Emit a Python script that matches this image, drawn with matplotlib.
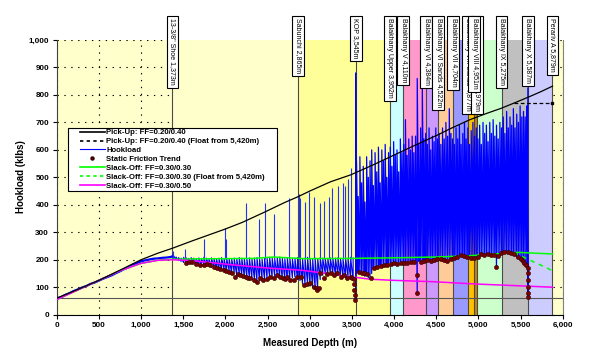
import matplotlib
matplotlib.use('Agg')
import matplotlib.pyplot as plt
import matplotlib.transforms as mtransforms
from matplotlib.lines import Line2D
from matplotlib.patches import Rectangle
from matplotlib.ticker import FuncFormatter, MultipleLocator
import numpy as np

plt.rcParams['font.family'] = ['Liberation Sans', 'DejaVu Sans']

# ---------------- data ----------------
# Pick-up (FF=0.20/0.40)
pu_depth = [0, 250, 500, 750, 1000, 1200, 1373, 1600, 1800, 2000, 2200, 2455, 2700, 2865, 3000,
            3248, 3485, 3750, 3999, 4250, 4515, 4673, 4900, 5100, 5267, 5420, 5600, 5742, 5879]
pu_load = [60, 92, 125, 162, 200, 224, 242, 268, 290, 312, 336, 372, 408, 430, 450,
           484, 509, 545, 581, 617, 654, 678, 710, 733, 751, 770, 793, 812, 832]
# Pick-up float from 5,420m
puf_depth = [5420, 5879]
puf_load = [771, 771]
# Slack-off FF=0.30/0.30
so3_depth = [0, 250, 500, 750, 1000, 1200, 1373, 1600, 2000, 2334, 2571, 2930, 3500, 4000,
             4500, 4871, 5200, 5465, 5600, 5879]
so3_load = [55, 90, 125, 160, 187, 198, 202, 203, 204, 205, 210, 204, 205, 207,
            210, 214, 221, 227, 225, 221]
# Slack-off float from 5,420m
so3f_depth = [5420, 5500, 5600, 5700, 5800, 5879]
so3f_load = [226, 215, 200, 186, 172, 160]
# Slack-off FF=0.30/0.50
so5_depth = [0, 250, 500, 750, 1000, 1200, 1373, 1600, 2100, 2535, 2900, 3128, 3486, 3722,
             4000, 4474, 4950, 5500, 5879]
so5_load = [55, 90, 125, 160, 187, 198, 200, 197, 181, 169, 162, 153, 138, 129,
            125, 120, 112, 105, 100]

# Hookload, surface to shoe
hl0_depth = [0, 25, 50, 100, 150, 200, 250, 300, 350, 400, 450, 500, 550, 600, 650, 700, 750,
             800, 850, 900, 950, 1000, 1050, 1100, 1150, 1200, 1250, 1300, 1350, 1375]
hl0_load = [55, 62, 64, 72, 78, 86, 92, 99, 104, 112, 117, 124, 131, 137, 143, 151, 158,
            166, 172, 181, 187, 194, 198, 201, 204, 205, 207, 208, 210, 213]

# Hookload, shoe to KOP (min / max per sample)
hl1_depth = [1385, 1415, 1445, 1475, 1505, 1535, 1565, 1595, 1625, 1655,
             1685, 1715, 1745, 1775, 1805, 1835, 1865, 1895, 1925, 1955,
             1985, 2015, 2045, 2075, 2105, 2135, 2165, 2195, 2225, 2255,
             2285, 2315, 2345, 2375, 2405, 2435, 2465, 2495, 2525, 2555,
             2585, 2615, 2645, 2675, 2705, 2735, 2765, 2795, 2825, 2855,
             2885, 2915, 2945, 2975, 3005, 3035, 3065, 3095, 3125, 3155,
             3185, 3215, 3245, 3275, 3305, 3335, 3365, 3395, 3425, 3455,
             3485, 3515]
hl1_low = [205, 200, 197, 194, 190, 188, 191, 185, 189, 183,
           181, 178, 183, 176, 179, 172, 170, 167, 165, 160,
           163, 156, 158, 150, 155, 140, 148, 142, 137, 136,
           134, 129, 127, 121, 124, 130, 127, 131, 137, 134,
           140, 144, 137, 131, 129, 127, 129, 134, 137, 129,
           124, 112, 108, 111, 104, 98, 94, 88, 128, 143,
           148, 146, 150, 149, 146, 143, 139, 137, 134, 134,
           131, 127]
hl1_high = [215, 210, 208, 206, 209, 207, 205, 208, 206, 204,
            207, 205, 209, 206, 204, 207, 205, 203, 206, 208,
            204, 207, 205, 203, 206, 204, 208, 206, 203, 205,
            207, 204, 206, 208, 205, 203, 207, 205, 209, 206,
            204, 208, 210, 206, 204, 207, 205, 203, 206, 208,
            205, 204, 207, 209, 205, 203, 206, 204, 208, 206,
            203, 205, 207, 204, 206, 208, 205, 203, 207, 205,
            209, 206]
# isolated overpull spikes between shoe and KOP
spk_depth = [1380, 1520, 1745, 2000, 2012, 2240, 2400, 2470, 2580, 2750, 2870, 2890, 2950,
             2990, 3050, 3120, 3170, 3230, 3270, 3330, 3390, 3420, 3450, 3485]
spk_top = [232, 238, 277, 315, 275, 405, 347, 405, 367, 425, 438, 424, 411,
           445, 430, 405, 415, 430, 460, 470, 480, 470, 495, 533]
spk_base = 203

# Hookload, KOP to TD (min / max per sample)
hl2_depth = [3545,
             3555, 3575, 3595, 3615, 3635, 3655, 3675, 3695, 3715, 3735,
             3755, 3775, 3795, 3815, 3835, 3855, 3875, 3895, 3915, 3935,
             3955, 3975, 3995, 4015, 4035, 4055, 4075, 4095, 4115, 4135,
             4155, 4175, 4195, 4215, 4235, 4255, 4275, 4295, 4315, 4335,
             4355, 4375, 4395, 4415, 4435, 4455, 4475, 4495, 4515, 4535,
             4555, 4575, 4595, 4615, 4635, 4655, 4675, 4695, 4715, 4735,
             4755, 4775, 4795, 4815, 4835, 4855, 4875, 4895, 4915, 4935,
             4955, 4975, 4995, 5015, 5035, 5055, 5075, 5095, 5115, 5135,
             5155, 5175, 5195, 5215, 5235, 5255, 5275, 5295, 5315, 5335,
             5355, 5375, 5395, 5415, 5435, 5455, 5475, 5495, 5515, 5535,
             5555, 5575,
             5587]
hl2_high = [880,
            560, 430, 575, 480, 540, 410, 575, 500, 560, 600,
            470, 590, 520, 610, 480, 600, 560, 620, 500, 590,
            610, 540, 630, 580, 600, 520, 640, 590, 620, 710,
            580, 640, 600, 650, 590, 650, 860, 620, 680, 840,
            640, 660, 620, 680, 600, 650, 630, 680, 640, 660,
            620, 680, 640, 700, 650, 750, 660, 640, 620, 680,
            640, 690, 620, 660, 700, 640, 680, 620, 670, 700,
            650, 680, 640, 690, 620, 700, 660, 690, 630, 700,
            660, 710, 650, 690, 640, 700, 680, 720, 660, 740,
            680, 720, 690, 750, 680, 730, 700, 760, 720, 740,
            720, 760,
            825]
hl2_low = [55,
           150, 155, 150, 148, 145, 140, 150, 135, 132, 150,
           165, 172, 175, 178, 180, 182, 183, 185, 186, 187,
           188, 189, 187, 190, 188, 191, 189, 192, 190, 193,
           191, 194, 192, 195, 193, 196, 80, 194, 197, 195,
           198, 196, 199, 197, 200, 198, 201, 199, 202, 200,
           201, 203, 200, 202, 204, 201, 203, 205, 206, 208,
           210, 212, 215, 211, 209, 213, 210, 207, 209, 206,
           208, 212, 218, 220, 219, 221, 218, 220, 222, 219,
           221, 218, 215, 172, 218, 223, 225, 228, 226, 229,
           227, 225, 222, 220, 215, 209, 205, 202, 198, 190,
           185, 175,
           60]

# Static friction trend
sf_depth = [1536, 1570, 1604, 1650, 1703, 1742, 1780, 1821, 1860, 1901, 1940, 1980, 2010, 2039,
            2080, 2118, 2150, 2178, 2210, 2240, 2270, 2297, 2336, 2376, 2416, 2450, 2495, 2535,
            2574, 2614, 2650, 2680, 2713, 2732, 2772, 2811, 2851, 2891, 2930, 2970, 3009, 3049,
            3069, 3089, 3110, 3128, 3168, 3208, 3247, 3287, 3327, 3366, 3406, 3445, 3485, 3505,
            3524, 3527, 3530, 3532, 3534, 3584, 3620, 3643, 3683, 3722, 3762, 3800, 3841, 3880,
            3920, 3960, 3999, 4040, 4079, 4120, 4158, 4200, 4240, 4277, 4277, 4316, 4355, 4396,
            4435, 4475, 4515, 4554, 4593, 4633, 4673, 4713, 4752, 4792, 4831, 4871, 4910, 4950,
            4990, 5029, 5069, 5109, 5148, 5188, 5208, 5228, 5267, 5306, 5346, 5385, 5425, 5465,
            5505, 5525, 5544, 5565, 5584, 5586, 5586, 5586, 5587, 5587]
sf_load = [189, 192, 193, 186, 181, 180, 184, 181, 175, 169, 166, 163, 160, 157,
           150, 136, 148, 145, 140, 138, 135, 132, 126, 120, 132, 125, 129, 136,
           132, 145, 138, 135, 129, 138, 126, 126, 138, 138, 108, 112, 114, 102,
           96, 90, 98, 151, 132, 148, 151, 145, 151, 138, 145, 135, 136, 132,
           129, 110, 90, 72, 54, 157, 150, 153, 147, 132, 169, 172, 177, 180,
           181, 184, 187, 186, 187, 190, 189, 191, 193, 145, 78, 193, 196, 199,
           197, 199, 203, 202, 200, 197, 204, 205, 210, 217, 212, 209, 207, 205,
           210, 221, 219, 221, 218, 217, 172, 215, 223, 227, 229, 226, 221, 209,
           202, 195, 189, 180, 169, 150, 125, 102, 80, 66]

# Formations
zone_start = [1373, 2865, 3952, 4110, 4384, 4522, 4704, 4877, 4951, 4979, 5275, 5587]
zone_end = [2865, 3952, 4110, 4384, 4522, 4704, 4877, 4951, 4979, 5275, 5587, 5879]
zone_color = ['#FFFFCC', '#FFFF99', '#CCFFFF', '#FF99CC', '#CC99FF', '#FFCC99', '#9999FF',
              '#FFC000', '#CC8400', '#CCFFCC', '#C0C0C0', '#CCCCFF']
top_depth = [1373, 2865, 3545, 3952, 4110, 4384, 4522, 4704, 4877, 4979, 4951, 5275, 5587, 5879]
top_label = ['13-3/8" Shoe 1,373m', 'Sabunchi 2,865m', 'KOP 3,545m', 'Balakhany Upper 3,952m',
             'Balakhany V 4,110m', 'Balakhany VI 4,384m', 'Balakhany VI Sands 4,522m',
             'Balakhany VII 4,704m', 'Balakhany VIII Sands 4,877m', 'Balakhany VIII Sands 4,979m',
             'Balakhany VIII 4,951m', 'Balakhany IX 5,275m', 'Balakhany X 5,587m',
             'Perariv A 5,879m']
block_weight = 60

legend_labels = ['Pick-Up: FF=0.20/0.40', 'Pick-Up: FF=0.20/0.40 (Float from 5,420m)', 'Hookload',
                 'Static Friction Trend', 'Slack-Off: FF=0.30/0.30',
                 'Slack-Off: FF=0.30/0.30 (Float from 5,420m)', 'Slack-Off: FF=0.30/0.50']

# ---------------- figure ----------------
W, H = 603, 359
fig = plt.figure(figsize=(W / 100, H / 100), dpi=100)
x0, x1, yb, yt = 56.7, 562.7, 314.7, 40.0
ax = fig.add_axes([x0 / W, 1 - yb / H, (x1 - x0) / W, (yb - yt) / H])
ax.set_facecolor('#FFFFCC')
ax.set_xlim(0, 6000)
ax.set_ylim(0, 1000)
ax.xaxis.set_major_locator(MultipleLocator(500))
ax.yaxis.set_major_locator(MultipleLocator(100))
ax.xaxis.set_major_formatter(FuncFormatter(lambda v, p: f'{int(v):,}'))
ax.yaxis.set_major_formatter(FuncFormatter(lambda v, p: f'{int(v):,}'))
ax.set_axisbelow(True)
ax.grid(True, color='black', linestyle=(0, (1.2, 5)), linewidth=0.8)

for s, e, c in zip(zone_start, zone_end, zone_color):
    ax.axvspan(s, e, color=c, lw=0, zorder=1)

ax.axhline(block_weight, color='#555555', lw=0.8, zorder=1.6)
for d in top_depth:
    ax.plot([d, d], [0, 1075], color='#4a4a4a', lw=0.8, zorder=1.5, clip_on=False)

blue = '#0000FF'
ax.plot(hl0_depth, hl0_load, color=blue, lw=1.6, zorder=2)
x1d = np.repeat(hl1_depth, 2)
y1d = np.column_stack([hl1_low, hl1_high]).ravel()
ax.plot(x1d, y1d, color=blue, lw=0.8, zorder=2)
ax.vlines(spk_depth, spk_base, spk_top, color='#2030FF', lw=0.8, zorder=2)
x2d = np.repeat(hl2_depth, 2)
y2d = np.column_stack([hl2_low, hl2_high]).ravel()
ax.plot(x2d, y2d, color=blue, lw=0.9, zorder=2)

ax.plot(so3_depth, so3_load, color='#00FF00', lw=1.1, zorder=3)
ax.plot(so3f_depth, so3f_load, color='#00FF00', lw=1.1, ls=(0, (3, 3)), zorder=3)
ax.plot(so5_depth, so5_load, color='#FF00FF', lw=1.1, zorder=3)
ax.plot(pu_depth, pu_load, color='black', lw=0.9, zorder=3.1)
ax.plot(puf_depth, puf_load, color='black', lw=0.9, ls=(0, (3, 2)), zorder=3.1,
        marker='s', markersize=2, markevery=[1])
ax.plot(sf_depth, sf_load, ls='none', marker='o', markersize=3, markerfacecolor='#7A0000',
        markeredgecolor='#300000', markeredgewidth=0.4, zorder=4)

# spines & ticks
ax.spines['top'].set_visible(False)
ax.spines['right'].set_color('#808080')
ax.spines['left'].set_color('#404040')
ax.spines['bottom'].set_color('black')
for sp in ax.spines.values():
    sp.set_linewidth(0.8)
ax.tick_params(axis='both', direction='out', length=3, width=0.8, labelsize=5.8, pad=2.5)
for lab in ax.get_xticklabels() + ax.get_yticklabels():
    lab.set_fontweight('bold')

fig.text((x0 + x1) / 2 / W, 1 - 342.7 / H, 'Measured Depth (m)', ha='center', va='center',
         fontsize=7, fontweight='bold')
fig.text(21 / W, 1 - 177 / H, 'Hookload (klbs)', ha='center', va='center', rotation=90,
         fontsize=7, fontweight='bold')

# formation top labels
trans = mtransforms.blended_transform_factory(ax.transData, fig.transFigure)
for d, lab in zip(top_depth, top_label):
    ax.text(d, 1 - 18.4 / H, lab, transform=trans, rotation=-90, ha='center', va='top',
            fontsize=5, zorder=20, clip_on=False,
            bbox=dict(boxstyle='square,pad=0.35', fc='white', ec='black', lw=0.8))

# legend
def ax_x(px):
    return (px - x0) / (x1 - x0)

def ax_y(py):
    return (yb - py) / (yb - yt)

ax.add_patch(Rectangle((ax_x(68), ax_y(191)), ax_x(277) - ax_x(68), ax_y(128) - ax_y(191),
                       transform=ax.transAxes, fc='white', ec='black', lw=0.8, zorder=4.9))
handles = [Line2D([], [], color='black', lw=1.2),
           Line2D([], [], color='black', lw=1.2, ls=(0, (2, 2))),
           Line2D([], [], color=blue, lw=0.8),
           Line2D([], [], ls='none', marker='o', markersize=2.2, markerfacecolor='#7A0000',
                  markeredgecolor='#300000'),
           Line2D([], [], color='#00FF00', lw=1.2),
           Line2D([], [], color='#00FF00', lw=1.2, ls=(0, (2, 2))),
           Line2D([], [], color='#FF00FF', lw=1.2)]
leg = ax.legend(handles, legend_labels, loc='upper left', bbox_to_anchor=(ax_x(80), ax_y(129)),
                frameon=False, borderpad=0, labelspacing=0.18, handlelength=3.2,
                handletextpad=0.2, borderaxespad=0,
                prop={'size': 5.6, 'weight': 'bold'})
leg.set_zorder(5)

fig.savefig('out.png', dpi=100, facecolor='white')
